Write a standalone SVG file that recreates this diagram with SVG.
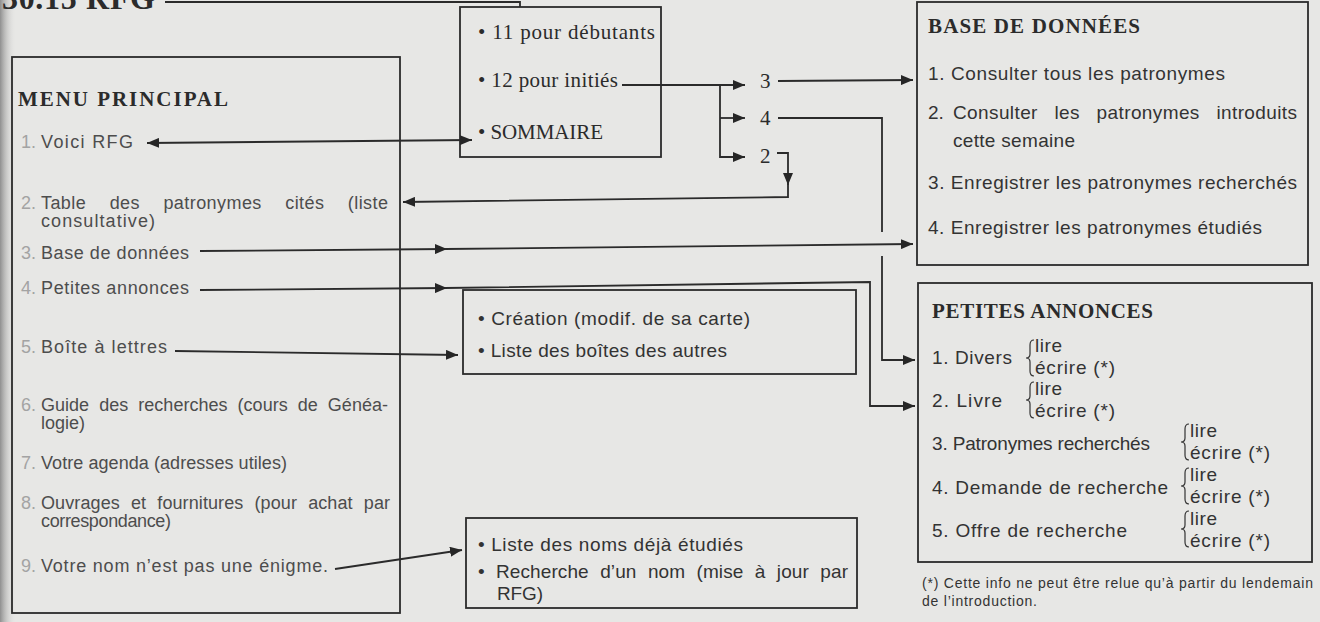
<svg xmlns="http://www.w3.org/2000/svg" width="1320" height="622" viewBox="0 0 1320 622">
<defs>
<marker id="ah" viewBox="0 0 12 10" refX="12" refY="5" markerWidth="12" markerHeight="10" markerUnits="userSpaceOnUse" orient="auto-start-reverse"><path d="M0,0 L12,5 L0,10 z" fill="#262626"/></marker>
<linearGradient id="shade" x1="0" y1="0" x2="1" y2="0"><stop offset="0" stop-color="#8f8f8f"/><stop offset="1" stop-color="#e7e7e5" stop-opacity="0"/></linearGradient>
</defs>
<style>
.box{fill:none;stroke:#2b2b2b;stroke-width:1.8}
.ln{fill:none;stroke:#2b2b2b;stroke-width:1.8}
.br{fill:none;stroke:#333;stroke-width:1.2}
.t{font-family:"Liberation Sans",Arial,sans-serif;fill:#333;font-size:19px}
.m{font-family:"Liberation Sans",Arial,sans-serif;fill:#4d4d4d;font-size:18px}
.num{font-family:"Liberation Sans",Arial,sans-serif;fill:#a3a3a3;font-size:18px}
.s{font-family:"Liberation Serif","Times New Roman",serif;fill:#2b2b2b;font-size:21px}
.h{font-family:"Liberation Serif","Times New Roman",serif;font-weight:bold;fill:#2b2b2b;font-size:21px}
.ttl{font-family:"Liberation Serif","Times New Roman",serif;font-weight:bold;fill:#2b2b2b;font-size:32px}
.fn{font-family:"Liberation Sans",Arial,sans-serif;fill:#333;font-size:14px}
</style>
<rect x="0" y="0" width="1320" height="622" fill="#e7e7e5"/>
<rect x="0" y="0" width="16" height="622" fill="url(#shade)"/>

<g id="title">
<text class="ttl" x="2" y="9" textLength="153">30.15 RFG</text>
</g>

<g id="menu">
<rect class="box" x="12" y="57" width="388" height="556"/>
<text class="h" x="18" y="106" textLength="210">MENU PRINCIPAL</text>
<text class="num" x="21" y="148">1.</text><text class="m" x="41" y="148" textLength="92">Voici RFG</text>
<text class="num" x="21" y="209">2.</text><text class="m" x="41" y="209" word-spacing="18" textLength="347">Table des patronymes cités (liste</text>
<text class="m" x="41" y="227" textLength="114">consultative)</text>
<text class="num" x="21" y="259">3.</text><text class="m" x="41" y="259" textLength="148">Base de données</text>
<text class="num" x="21" y="294">4.</text><text class="m" x="41" y="294" textLength="148">Petites annonces</text>
<text class="num" x="21" y="353">5.</text><text class="m" x="41" y="353" textLength="126">Boîte à lettres</text>
<text class="num" x="21" y="411">6.</text><text class="m" x="41" y="411" word-spacing="5" textLength="347">Guide des recherches (cours de Généa-</text>
<text class="m" x="41" y="429" textLength="44">logie)</text>
<text class="num" x="21" y="469">7.</text><text class="m" x="41" y="469" textLength="246">Votre agenda (adresses utiles)</text>
<text class="num" x="21" y="509">8.</text><text class="m" x="41" y="509" word-spacing="6" textLength="349">Ouvrages et fournitures (pour achat par</text>
<text class="m" x="41" y="527" textLength="130">correspondance)</text>
<text class="num" x="21" y="572">9.</text><text class="m" x="41" y="572" textLength="287">Votre nom n’est pas une énigme.</text>
</g>

<g id="sommaire">
<rect class="box" x="460" y="7" width="201" height="150"/>
<text class="s" x="478" y="39" textLength="177">• 11 pour débutants</text>
<text class="s" x="478" y="87" textLength="140">• 12 pour initiés</text>
<text class="s" x="478" y="139" textLength="125">• SOMMAIRE</text>
</g>

<g id="branches">
<text class="s" x="760" y="88">3</text>
<text class="s" x="760" y="125">4</text>
<text class="s" x="760" y="163">2</text>
</g>

<g id="boite">
<rect class="box" x="463" y="290" width="393" height="84"/>
<text class="t" x="478" y="325" textLength="272">• Création (modif. de sa carte)</text>
<text class="t" x="478" y="357" textLength="249">• Liste des boîtes des autres</text>
</g>

<g id="noms">
<rect class="box" x="466" y="518" width="391" height="90"/>
<text class="t" x="478" y="551" textLength="265">• Liste des noms déjà étudiés</text>
<text class="t" x="478" y="578">•</text><text class="t" x="496" y="578" word-spacing="6" textLength="352">Recherche d’un nom (mise à jour par</text>
<text class="t" x="497" y="600" textLength="46">RFG)</text>
</g>

<g id="base">
<rect class="box" x="917" y="2" width="391" height="263"/>
<text class="h" x="928" y="33" textLength="212">BASE DE DONNÉES</text>
<text class="t" x="928" y="80" textLength="297">1. Consulter tous les patronymes</text>
<text class="t" x="928" y="119">2.</text><text class="t" x="953" y="119" word-spacing="11" textLength="344">Consulter les patronymes introduits</text>
<text class="t" x="953" y="147" textLength="122">cette semaine</text>
<text class="t" x="928" y="189" textLength="369">3. Enregistrer les patronymes recherchés</text>
<text class="t" x="928" y="234" textLength="334">4. Enregistrer les patronymes étudiés</text>
</g>

<g id="annonces">
<rect class="box" x="918" y="283" width="394" height="279"/>
<text class="h" x="932" y="318" textLength="221">PETITES ANNONCES</text>
<text class="t" x="932" y="364" textLength="80">1. Divers</text>
<path class="br" d="M1034,340 Q1030,340 1030,345 V354 Q1030,358 1026,358 Q1030,358 1030,362 V371 Q1030,376 1034,376"/>
<text class="t" x="1035" y="352" textLength="27">lire</text>
<text class="t" x="1035" y="374" textLength="80">écrire (*)</text>
<text class="t" x="932" y="407" textLength="70">2. Livre</text>
<path class="br" d="M1034,382 Q1030,382 1030,387 V396 Q1030,400 1026,400 Q1030,400 1030,404 V413 Q1030,418 1034,418"/>
<text class="t" x="1035" y="395" textLength="27">lire</text>
<text class="t" x="1035" y="417" textLength="80">écrire (*)</text>
<text class="t" x="932" y="450" textLength="218">3. Patronymes recherchés</text>
<path class="br" d="M1189,424 Q1185,424 1185,429 V438 Q1185,442 1181,442 Q1185,442 1185,446 V455 Q1185,460 1189,460"/>
<text class="t" x="1190" y="437" textLength="27">lire</text>
<text class="t" x="1190" y="459" textLength="80">écrire (*)</text>
<text class="t" x="932" y="494" textLength="236">4. Demande de recherche</text>
<path class="br" d="M1189,468 Q1185,468 1185,473 V482 Q1185,486 1181,486 Q1185,486 1185,490 V499 Q1185,504 1189,504"/>
<text class="t" x="1190" y="481" textLength="27">lire</text>
<text class="t" x="1190" y="503" textLength="80">écrire (*)</text>
<text class="t" x="932" y="537" textLength="195">5. Offre de recherche</text>
<path class="br" d="M1189,511 Q1185,511 1185,516 V525 Q1185,529 1181,529 Q1185,529 1185,533 V542 Q1185,547 1189,547"/>
<text class="t" x="1190" y="525" textLength="27">lire</text>
<text class="t" x="1190" y="547" textLength="80">écrire (*)</text>
</g>

<g id="footnote">
<text class="fn" x="922" y="588" textLength="391">(*) Cette info ne peut être relue qu’à partir du lendemain</text>
<text class="fn" x="922" y="606" textLength="115">de l’introduction.</text>
</g>

<g id="connectors">
<path class="ln" d="M165,2 H520 V7" stroke-width="3"/>
<path class="ln" d="M147,143 L472,140" marker-start="url(#ah)" marker-end="url(#ah)"/>
<path class="ln" d="M622,85 H745" marker-end="url(#ah)"/>
<path class="ln" d="M720,85 V157 H745" marker-end="url(#ah)"/>
<path class="ln" d="M720,118 H745" marker-end="url(#ah)"/>
<path class="ln" d="M778,81 L913,80" marker-end="url(#ah)"/>
<path class="ln" d="M778,118 H882 V232"/>
<path class="ln" d="M882,256 V360 H915" marker-end="url(#ah)"/>
<path class="ln" d="M777,153 H788 V185" marker-end="url(#ah)"/>
<path class="ln" d="M788,183 V197 L403,202" marker-end="url(#ah)"/>
<path class="ln" d="M200,251 L447,249" marker-end="url(#ah)"/>
<path class="ln" d="M445,249 L913,244" marker-end="url(#ah)"/>
<path class="ln" d="M200,290 L447,288" marker-end="url(#ah)"/>
<path class="ln" d="M445,288 L870,282 V406 H915" marker-end="url(#ah)"/>
<path class="ln" d="M175,351 L458,355" marker-end="url(#ah)"/>
<path class="ln" d="M335,569 L462,550" marker-end="url(#ah)"/>
</g>
</svg>
